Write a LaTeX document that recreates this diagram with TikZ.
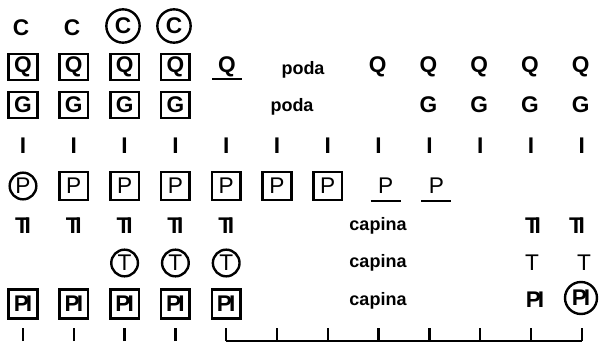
\documentclass[tikz,border=0pt]{standalone}
\usepackage{fontspec}
\setmainfont{Liberation Sans}
\usetikzlibrary{positioning}
\tikzset{
  sym/.style={inner sep=0pt, font=\fontsize{17}{19}\selectfont\bfseries},
  thin sym/.style={inner sep=0pt, font=\fontsize{17}{19}\selectfont},
  word/.style={inner sep=0pt, font=\fontsize{13.5}{16}\selectfont\bfseries},
  boxed/.style={draw, line width=1.9pt, minimum width=21.5pt, minimum height=19.5pt},
  ringed/.style={circle, draw, line width=1.8pt, minimum size=#1},
  ringed/.default=20pt,
  rule/.style={line width=1.4pt},
  axtick/.style={line width=1.8pt}
}
\newcommand\tiglyph{T\kern-3.2pt I}
\newcommand\plglyph{P\kern-2.2pt I}
\begin{document}
\begin{tikzpicture}[x=0.75pt, y=-0.75pt]
\useasboundingbox (0,0) rectangle (600,342);
% C row
\node[sym] (c1) at (21,28) {C};
\node[sym] (c2) at (72,28) {C};
\node[sym, ringed=25pt] (c3) at (123,26) {C};
\node[sym, ringed=25pt] (c4) at (174,26) {C};
% Q row
\foreach \i in {1,...,4}
  \node[sym, boxed] (q\i) at ({23+50.8*(\i-1)},67) {Q};
\node[sym, minimum width=21.5pt, minimum height=18pt] (q5) at (227,67) {Q};
\draw[rule] (q5.south west) -- (q5.south east);
\node[word] (poda1) at (303,70) {poda};
\foreach \i in {8,...,12}
  \node[sym] (q\i) at ({22+50.8*(\i-1)},67) {Q};
% G row
\foreach \i in {1,...,4}
  \node[sym, boxed] (g\i) at ({23+50.8*(\i-1)},105) {G};
\node[word] (poda2) at (292,107) {poda};
\foreach \i in {9,...,12}
  \node[sym] (g\i) at ({22+50.8*(\i-1)},105) {G};
% I row
\foreach \i in {1,...,12}
  \node[sym] (i\i) at ({23+50.8*(\i-1)},146) {I};
% P row
\node[thin sym, ringed] (p1) at (23,186) {P};
\foreach \i in {2,...,7}
  \node[thin sym, boxed, minimum height=21pt] (p\i) at ({23+50.8*(\i-1)},186) {P};
\foreach \i in {8,9} {
  \node[thin sym, minimum width=22pt, minimum height=22pt] (p\i) at ({23+50.8*(\i-1)+7},186) {P};
  \draw[rule] (p\i.south west) -- (p\i.south east);
}
% TI row
\foreach \i in {1,...,5}
  \node[sym] (ti\i) at ({23+50.8*(\i-1)},226) {\tiglyph};
\node[word] (capina1) at (378,226) {capina};
\node[sym] (ti11) at (533,226) {\tiglyph};
\node[sym] (ti12) at (577,226) {\tiglyph};
% T row
\foreach \i in {3,4,5}
  \node[thin sym, ringed] (t\i) at ({23+50.8*(\i-1)},263) {T};
\node[word] (capina2) at (378,263) {capina};
\node[thin sym] (t11) at (532,263) {T};
\node[thin sym] (t12) at (584,263) {T};
% PI row
\foreach \i in {1,...,5}
  \node[sym, boxed, minimum height=22pt] (pl\i) at ({23+50.8*(\i-1)},304) {\plglyph};
\node[word] (capina3) at (378,301) {capina};
\node[sym] (pl11) at (535,300) {\plglyph};
\node[sym, ringed=24pt] (pl12) at (581,298) {\plglyph};
% time axis
\foreach \i in {1,...,12} {
  \coordinate (ax\i) at ({23+50.8*(\i-1)},341);
  \draw[axtick] (ax\i) -- ++(0,-13);
}
\draw[rule] (ax5) -- (ax12);
\end{tikzpicture}
\end{document}
